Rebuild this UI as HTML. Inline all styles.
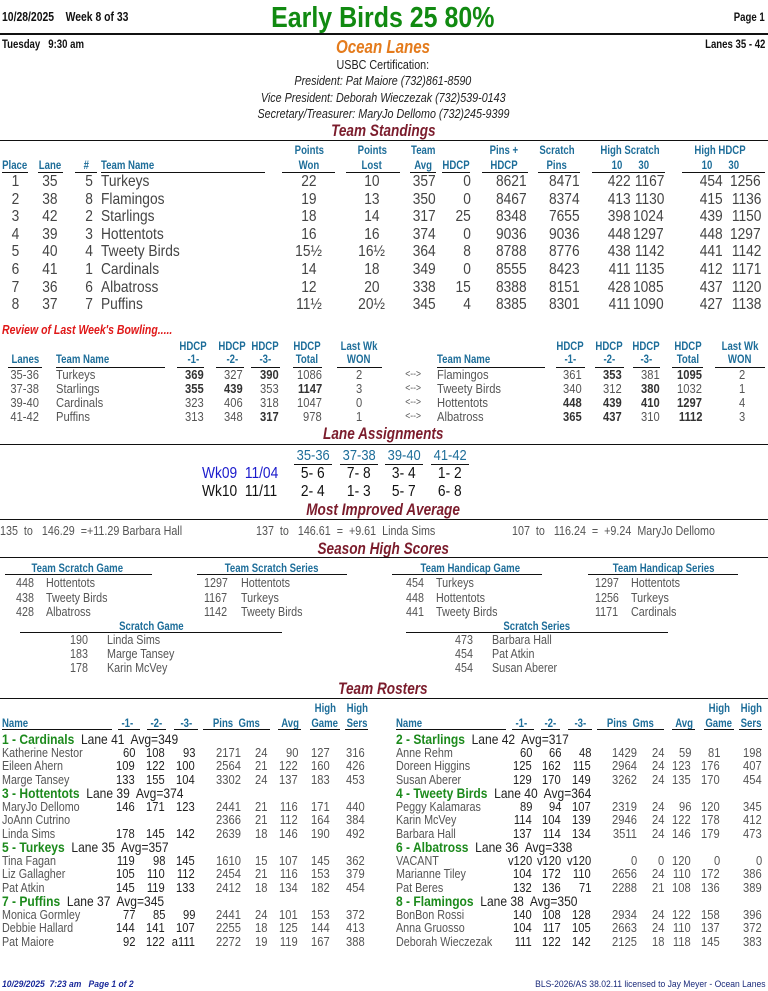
<!DOCTYPE html>
<html><head><meta charset="utf-8">
<style>
html,body{margin:0;padding:0;background:#fff;}
#pg{position:relative;width:768px;height:991px;overflow:hidden;font-family:"Liberation Sans",sans-serif;color:#444;}
.t{position:absolute;height:20px;line-height:20px;white-space:nowrap;}
.t>span{display:inline-block;white-space:pre;}
.ln{position:absolute;background:#111;}
.h{color:#1d6d99;font-weight:bold;font-size:12px;}
.sec{color:#7b1c2c;font-weight:bold;font-style:italic;font-size:17px;}
.d{font-size:16px;color:#444;}
.r{font-size:13px;color:#555;}
.s{font-size:12.5px;color:#555;}
.b{font-weight:bold;color:#333;}
.k{color:#111;font-weight:bold;font-size:12px;}
</style></head><body>
<div id="pg"></div>
<script>
// ---- data ----
const standPlace=[1,2,3,4,5,6,7,8];
const standLane=[35,38,42,39,40,41,36,37];
const standNum=[5,8,2,3,4,1,6,7];
const standTeam=["Turkeys","Flamingos","Starlings","Hottentots","Tweety Birds","Cardinals","Albatross","Puffins"];
const standWon=["22","19","18","16","15½","14","12","11½"];
const standLost=["10","13","14","16","16½","18","20","20½"];
const standAvg=[357,350,317,374,364,349,338,345];
const standHdcp=[0,0,25,0,8,0,15,4];
const standPinsH=[8621,8467,8348,9036,8788,8555,8388,8385];
const standScratch=[8471,8374,7655,9036,8776,8423,8151,8301];
const standHs10=[422,413,398,448,438,411,428,411];
const standHs30=[1167,1130,1024,1297,1142,1135,1085,1090];
const standHh10=[454,415,439,448,441,412,437,427];
const standHh30=[1256,1136,1150,1297,1142,1171,1120,1138];

const revLanes=["35-36","37-38","39-40","41-42"];
const revTeamA=["Turkeys","Starlings","Cardinals","Puffins"];
const revA=[[369,327,390,1086,2],[355,439,353,1147,3],[323,406,318,1047,0],[313,348,317,978,1]];
const revABold=[[1,0,1,0],[1,1,0,1],[0,0,0,0],[0,0,1,0]];
const revTeamB=["Flamingos","Tweety Birds","Hottentots","Albatross"];
const revB=[[361,353,381,1095,2],[340,312,380,1032,1],[448,439,410,1297,4],[365,437,310,1112,3]];
const revBBold=[[0,1,0,1],[0,0,1,0],[1,1,1,1],[1,1,0,1]];

const rosterTeams=[
 ["1 - Cardinals","Lane 41  Avg=349",[["Katherine Nestor","60","108","93","2171","24","90","127","316"],["Eileen Ahern","109","122","100","2564","21","122","160","426"],["Marge Tansey","133","155","104","3302","24","137","183","453"]]],
 ["2 - Starlings","Lane 42  Avg=317",[["Anne Rehm","60","66","48","1429","24","59","81","198"],["Doreen Higgins","125","162","115","2964","24","123","176","407"],["Susan Aberer","129","170","149","3262","24","135","170","454"]]],
 ["3 - Hottentots","Lane 39  Avg=374",[["MaryJo Dellomo","146","171","123","2441","21","116","171","440"],["JoAnn Cutrino","","","","2366","21","112","164","384"],["Linda Sims","178","145","142","2639","18","146","190","492"]]],
 ["4 - Tweety Birds","Lane 40  Avg=364",[["Peggy Kalamaras","89","94","107","2319","24","96","120","345"],["Karin McVey","114","104","139","2946","24","122","178","412"],["Barbara Hall","137","114","134","3511","24","146","179","473"]]],
 ["5 - Turkeys","Lane 35  Avg=357",[["Tina Fagan","119","98","145","1610","15","107","145","362"],["Liz Gallagher","105","110","112","2454","21","116","153","379"],["Pat Atkin","145","119","133","2412","18","134","182","454"]]],
 ["6 - Albatross","Lane 36  Avg=338",[["VACANT","v120","v120","v120","0","0","120","0","0"],["Marianne Tiley","104","172","110","2656","24","110","172","386"],["Pat Beres","132","136","71","2288","21","108","136","389"]]],
 ["7 - Puffins","Lane 37  Avg=345",[["Monica Gormley","77","85","99","2441","24","101","153","372"],["Debbie Hallard","144","141","107","2255","18","125","144","413"],["Pat Maiore","92","122","a111","2272","19","119","167","388"]]],
 ["8 - Flamingos","Lane 38  Avg=350",[["BonBon Rossi","140","108","128","2934","24","122","158","396"],["Anna Gruosso","104","117","105","2663","24","110","137","372"],["Deborah Wieczezak","111","122","142","2125","18","118","145","383"]]]
];

// ---- helpers ----
const pg=document.getElementById('pg');
function T(x,y,s,cls,al,name,extra,sx){
  const el=document.createElement('div');
  el.className='t '+(cls||'');
  
  
  const sp=document.createElement('span');
  sp.textContent=s;
  if(sx===undefined){sx=/\b(h|k|sec)\b/.test(cls||'')?0.8:0.86;}
  sp.style.transform='scaleX('+sx+')';
  el.style.top=(y-10)+'px';
  if(al==='r'){el.style.left=(x-600)+'px';el.style.width='600px';el.style.textAlign='right';sp.style.transformOrigin='right center';}
  else if(al==='c'){el.style.left=(x-300)+'px';el.style.width='600px';el.style.textAlign='center';sp.style.transformOrigin='center center';}
  else{el.style.left=x+'px';sp.style.transformOrigin='left center';}
  if(extra)el.style.cssText+=extra;
  el.appendChild(sp);
  pg.appendChild(el);el.sp=sp;return el;
}
function L(x1,x2,y,w,name){
  const el=document.createElement('div');
  el.className='ln';
  
  
  el.style.left=x1+'px';el.style.width=(x2-x1)+'px';el.style.top=y+'px';el.style.height=(w||1)+'px';
  pg.appendChild(el);
}

// ---- header ----
T(2,17,"10/28/2025    Week 8 of 33","k","l","report-date","font-size:13px");
T(383,18,"Early Birds 25 80%","","c","league-title","font-size:29px;font-weight:bold;color:#118a11;height:34px;line-height:34px;top:1px",0.86);
T(765,17,"Page 1","k","r","page-number");
L(0,768,33,2,"header-rule");
T(2,44,"Tuesday   9:30 am","k","l","session-time");
T(383,47,"Ocean Lanes","","c","center-name","font-size:18px;font-weight:bold;font-style:italic;color:#e47b1c",0.84);
T(765,44,"Lanes 35 - 42","k","r","lane-range");
T(383,65,"USBC Certification:","","c","certification","font-size:12.5px;color:#222");
T(383,81,"President: Pat Maiore (732)861-8590","","c","president","font-size:12.5px;color:#222;font-style:italic");
T(383,98,"Vice President: Deborah Wieczezak (732)539-0143","","c","vice-president","font-size:12.5px;color:#222;font-style:italic");
T(383,114,"Secretary/Treasurer: MaryJo Dellomo (732)245-9399","","c","secretary","font-size:12.5px;color:#222;font-style:italic");
T(383,131,"Team Standings","sec","c","team-standings-title");
L(0,768,140,1,"standings-rule");

// standings headers
[[15,"","Place",2,28],[50,"","Lane",38,63],[86,"","#",75,97],[309,"Points","Won",282,335],[372,"Points","Lost",346,400],[423,"Team","Avg",410,436],[456,"","HDCP",442,470],[504,"Pins +","HDCP",482,528],[557,"Scratch","Pins",538,580],[630,"High Scratch","10      30",592,665],[720,"High HDCP","10      30",682,765]].forEach(c=>{
  if(c[1])T(c[0],150,c[1],"h","c","standings-header");
  T(c[0],165,c[2],"h","c","standings-header");
  L(c[3],c[4],172,1,"standings-header-rule");
});
T(101,165,"Team Name","h","l","standings-header");L(101,265,172,1,"standings-header-rule");
standTeam.forEach((tm,i)=>{
  const y=182+i*17.6;
  T(15,y,String(standPlace[i]),"d","c","standing-place");
  T(50,y,String(standLane[i]),"d","c","standing-lane");
  T(93,y,String(standNum[i]),"d","r","standing-team-number");
  T(101,y,tm,"d","l","standing-team-name");
  T(309,y,standWon[i],"d","c","standing-points-won");
  T(372,y,standLost[i],"d","c","standing-points-lost");
  T(436,y,String(standAvg[i]),"d","r","standing-avg");
  T(471,y,String(standHdcp[i]),"d","r","standing-hdcp");
  T(527,y,String(standPinsH[i]),"d","r","standing-pins-hdcp");
  T(580,y,String(standScratch[i]),"d","r","standing-scratch-pins");
  T(631,y,String(standHs10[i]),"d","r","standing-high-scratch-10");
  T(664,y,String(standHs30[i]),"d","r","standing-high-scratch-30");
  T(723,y,String(standHh10[i]),"d","r","standing-high-hdcp-10");
  T(761,y,String(standHh30[i]),"d","r","standing-high-hdcp-30");
});

// review
T(2,330,"Review of Last Week's Bowling.....","","l","review-title","font-size:12.5px;font-weight:bold;font-style:italic;color:#e01818",0.84);
const revCols=[[193,177,204,"HDCP","-1-"],[232,216,244,"HDCP","-2-"],[265,251,280,"HDCP","-3-"],[307,293,322,"HDCP","Total"],[359,337,382,"Last Wk","WON"]];
const revColsB=[[570,556,585,"HDCP","-1-"],[609,595,624,"HDCP","-2-"],[646,633,660,"HDCP","-3-"],[688,672,703,"HDCP","Total"],[740,715,765,"Last Wk","WON"]];
[revCols,revColsB].forEach(cs=>cs.forEach(c=>{T(c[0],346,c[3],"h","c","review-header");T(c[0],359,c[4],"h","c","review-header");L(c[1],c[2],367,1,"review-header-rule");}));
T(25,359,"Lanes","h","c","review-header");L(8,42,367,1,"review-header-rule");
T(56,359,"Team Name","h","l","review-header");L(56,165,367,1,"review-header-rule");
T(437,359,"Team Name","h","l","review-header");L(437,545,367,1,"review-header-rule");
const rA=[204,243,279,322,362],rB=[582,622,660,702,745];
revLanes.forEach((ln,i)=>{
  const y=375+i*14;
  T(25,y,ln,"r","c","review-lanes");
  T(56,y,revTeamA[i],"r","l","review-team");
  revA[i].forEach((v,j)=>{const e=T(rA[j],y,String(v),"r","r","review-score");if(j<4&&revABold[i][j])e.classList.add('b');});
  T(413,y,"<-->","r","c","review-vs","font-size:10px");
  T(437,y,revTeamB[i],"r","l","review-opponent");
  revB[i].forEach((v,j)=>{const e=T(rB[j],y,String(v),"r","r","review-score");if(j<4&&revBBold[i][j])e.classList.add('b');});
});

// lane assignments
T(383,434,"Lane Assignments","sec","c","lane-assignments-title");
L(0,768,444,1,"lane-assignments-rule");
const laCols=[313,359,404,450];
const laHead=["35-36","37-38","39-40","41-42"];
const laWk09=["5- 6","7- 8","3- 4","1- 2"];
const laWk10=["2- 4","1- 3","5- 7","6- 8"];
laHead.forEach((h,i)=>{T(laCols[i],456,h,"","c","lane-pair-header","font-size:15px;color:#1d6d99");L(laCols[i]-19,laCols[i]+19,464,1,"lane-pair-rule");
  T(laCols[i],474,laWk09[i],"","c","week9-pairing","font-size:16px;color:#111");
  T(laCols[i],492,laWk10[i],"","c","week10-pairing","font-size:16px;color:#111");});
T(202,474,"Wk09  11/04","","l","week9-label","font-size:16px;color:#1a1acc");
T(202,492,"Wk10  11/11","","l","week10-label","font-size:16px;color:#111");

// most improved
T(383,510,"Most Improved Average","sec","c","most-improved-title");
L(0,768,519,1,"most-improved-rule");
T(0,531,"135  to   146.29  =+11.29 Barbara Hall","s","l","improved-1");
T(256,531,"137  to   146.61  =  +9.61  Linda Sims","s","l","improved-2");
T(512,531,"107  to   116.24  =  +9.24  MaryJo Dellomo","s","l","improved-3");

// season highs
T(383,549,"Season High Scores","sec","c","season-high-title");
L(0,768,557,1,"season-high-rule");
const shGroups=[["Team Scratch Game",77,5,152,16,46,[["448","Hottentots"],["438","Tweety Birds"],["428","Albatross"]]],
["Team Scratch Series",272,197,347,204,241,[["1297","Hottentots"],["1167","Turkeys"],["1142","Tweety Birds"]]],
["Team Handicap Game",470,392,542,406,436,[["454","Turkeys"],["448","Hottentots"],["441","Tweety Birds"]]],
["Team Handicap Series",664,588,738,595,631,[["1297","Hottentots"],["1256","Turkeys"],["1171","Cardinals"]]]];
shGroups.forEach(g=>{T(g[1],568,g[0],"h","c","season-high-header");L(g[2],g[3],574,1,"season-high-header-rule");
  g[6].forEach((r,i)=>{const y=583+i*14.5;T(g[4],y,r[0],"s","l","season-high-score");T(g[5],y,r[1],"s","l","season-high-team");});});
const shInd=[["Scratch Game",151,20,282,70,107,[["190","Linda Sims"],["183","Marge Tansey"],["178","Karin McVey"]]],
["Scratch Series",537,406,668,455,492,[["473","Barbara Hall"],["454","Pat Atkin"],["454","Susan Aberer"]]]];
shInd.forEach(g=>{T(g[1],626,g[0],"h","c","individual-high-header");L(g[2],g[3],632,1,"individual-high-rule");
  g[6].forEach((r,i)=>{const y=640+i*14;T(g[4],y,r[0],"s","l","individual-high-score");T(g[5],y,r[1],"s","l","individual-high-bowler");});});

// rosters
T(383,689,"Team Rosters","sec","c","team-rosters-title");
L(0,768,698,1,"team-rosters-rule");
const colL=[135,165,195,241,267,298,330,365], colR=[532,561,591,637,664,691,720,762];
function rosterHead(off){
  T(off+2,723,"Name","h","l","roster-header");L(off+2,off+112,729,1,"roster-header-rule");
  [[127,118,140,"-1-"],[156,147,166,"-2-"],[186,174,198,"-3-"],[236,203,270,"Pins  Gms"],[290,278,301,"Avg"],[325,310,340,"Game"],[357,345,368,"Sers"]].forEach(c=>{
    T(off+c[0],723,c[3],"h","c","roster-header");L(off+c[1],off+c[2],729,1,"roster-header-rule");});
  T(off+325,708,"High","h","c","roster-header");T(off+357,708,"High","h","c","roster-header");
}
rosterHead(0);rosterHead(394);
rosterTeams.forEach((tm,i)=>{
  const right=i%2===1, off=right?394:0, cols=right?colR:colL;
  const y0=739+Math.floor(i/2)*54;
  const e=T(off+2,y0,"","","l","roster-team-header","font-size:14px");
  const a=document.createElement('span');a.textContent=tm[0];a.style.cssText="color:#1c8a1c;font-weight:bold";
  
  
  const b=document.createElement('span');b.textContent="  "+tm[1];b.style.cssText="color:#222;white-space:pre";
  
  
  e.sp.appendChild(a);e.sp.appendChild(b);
  tm[2].forEach((p,k)=>{
    const y=y0+14+k*13.3;
    T(off+2,y,p[0],"s","l","roster-bowler-name","font-size:12.5px");
    for(let j=1;j<=8;j++){const c=T(cols[j-1],y,p[j],"s","r","roster-bowler-stat","font-size:13px");if(j<=3)c.style.color='#222';}
  });
});

// footer
T(2,984,"10/29/2025  7:23 am   Page 1 of 2","","l","footer-printed","font-size:9px;font-weight:bold;font-style:italic;color:#1a2a9a",0.95);
T(765,984,"BLS-2026/AS 38.02.11 licensed to Jay Meyer - Ocean Lanes","","r","footer-license","font-size:9px;color:#1a2a7a",0.95);
</script>
</body></html>
